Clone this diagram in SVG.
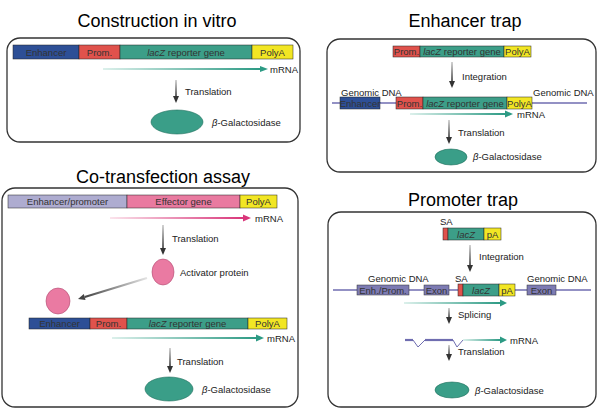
<svg xmlns="http://www.w3.org/2000/svg" width="598" height="409" viewBox="0 0 598 409">
<defs>
<style>
.title{font-family:"Liberation Sans",Arial,sans-serif;font-size:18px;fill:#000;text-anchor:middle}
.lbl{font-family:"Liberation Sans",Arial,sans-serif;font-size:9.5px;fill:#222}
.bx{font-family:"Liberation Sans",Arial,sans-serif;font-size:9.5px;fill:#333;text-anchor:middle}
.panel{fill:#fff;stroke:#333;stroke-width:1.3}
.enh{fill:#2d4f96;stroke:#222;stroke-width:0.5}
.prom{fill:#e0524c;stroke:#222;stroke-width:0.5}
.lacz{fill:#3c9e88;stroke:#222;stroke-width:0.5}
.polya{fill:#f2e624;stroke:#222;stroke-width:0.5}
.ep{fill:#aeacd0;stroke:#222;stroke-width:0.5}
.eff{fill:#e97aa0;stroke:#222;stroke-width:0.5}
.exon{fill:#7d7bb3;stroke:#333;stroke-width:0.5}
.gal{fill:#3a9e88;stroke:#1f6e5c;stroke-width:0.6}
.act{fill:#ea7aa2;stroke:#b04a70;stroke-width:0.6}
.gline{stroke:#6f6db0;stroke-width:1.3;fill:none}
.vs{fill:url(#gv)}
.vh{fill:#333}
.ts{fill:url(#gt)}
.th{fill:#2c9a84}
</style>
<linearGradient id="gv" x1="0" y1="0" x2="0" y2="1"><stop offset="0" stop-color="#c8c8c8"/><stop offset="1" stop-color="#333"/></linearGradient>
<linearGradient id="gd" x1="1" y1="0" x2="0" y2="0"><stop offset="0" stop-color="#e4e4e4"/><stop offset="1" stop-color="#444"/></linearGradient>
<linearGradient id="gt" x1="0" y1="0" x2="1" y2="0"><stop offset="0" stop-color="#dcf0eb"/><stop offset="1" stop-color="#2c9a84"/></linearGradient>
<linearGradient id="gp" x1="0" y1="0" x2="1" y2="0"><stop offset="0" stop-color="#fbe4ec"/><stop offset="1" stop-color="#d9367a"/></linearGradient>
</defs>

<!-- Panel 1: Construction in vitro -->
<g id="panel1">
<text class="title" x="157" y="27">Construction in vitro</text>
<rect class="panel" x="7" y="38" width="293" height="104" rx="13"/>
</g>
<g id="p1-construct">
<rect class="enh" x="13" y="45" width="66" height="14"/><text class="bx" x="46" y="55.5" fill="#1a2a5a">Enhancer</text>
<rect class="prom" x="79" y="45" width="41" height="14"/><text class="bx" x="99.5" y="55.5">Prom.</text>
<rect class="lacz" x="120" y="45" width="132" height="14"/><text class="bx" x="186" y="55.5"><tspan font-style="italic">lacZ</tspan> reporter gene</text>
<rect class="polya" x="252" y="45" width="41" height="14"/><text class="bx" x="272.5" y="55.5">PolyA</text>
</g>
<g id="p1-gal">
<ellipse class="gal" cx="177" cy="122" rx="26" ry="12"/>
<text class="lbl" x="212" y="126"><tspan font-style="italic">β</tspan>-Galactosidase</text>
</g>

<!-- Panel 2: Enhancer trap -->
<g id="panel2">
<text class="title" x="465" y="27">Enhancer trap</text>
<rect class="panel" x="327" y="39" width="269" height="133" rx="13"/>
</g>
<g id="p2-construct">
<rect class="prom" x="393" y="46" width="27" height="11"/><text class="bx" x="406.5" y="55">Prom.</text>
<rect class="lacz" x="420" y="46" width="84" height="11"/><text class="bx" x="462" y="55"><tspan font-style="italic">lacZ</tspan> reporter gene</text>
<rect class="polya" x="504" y="46" width="27" height="11"/><text class="bx" x="517.5" y="55">PolyA</text>
</g>
<g id="p2-genomic">
<line class="gline" x1="332" y1="103" x2="587" y2="103"/>
<text class="lbl" x="341" y="96">Genomic DNA</text>
<text class="lbl" x="533" y="96">Genomic DNA</text>
<rect class="enh" x="340" y="97" width="40" height="12"/><text class="bx" x="360" y="106.5" fill="#1a2a5a">Enhancer</text>
<rect class="prom" x="396" y="97" width="27" height="12"/><text class="bx" x="409.5" y="106.5">Prom.</text>
<rect class="lacz" x="423" y="97" width="84" height="12"/><text class="bx" x="465" y="106.5"><tspan font-style="italic">lacZ</tspan> reporter gene</text>
<rect class="polya" x="507" y="97" width="25" height="12"/><text class="bx" x="519.5" y="106.5">PolyA</text>
</g>
<g id="p2-gal">
<ellipse class="gal" cx="451" cy="157" rx="16" ry="8"/>
<text class="lbl" x="473" y="160"><tspan font-style="italic">β</tspan>-Galactosidase</text>
</g>

<!-- Panel 3: Co-transfection assay -->
<g id="panel3">
<text class="title" x="163" y="183">Co-transfection assay</text>
<rect class="panel" x="2" y="188" width="296" height="219" rx="13"/>
</g>
<g id="p3-effector">
<rect class="ep" x="8" y="195" width="119" height="13"/><text class="bx" x="67.5" y="205">Enhancer/promoter</text>
<rect class="eff" x="127" y="195" width="113" height="13"/><text class="bx" x="183.5" y="205">Effector gene</text>
<rect class="polya" x="240" y="195" width="37" height="13"/><text class="bx" x="258.5" y="205">PolyA</text>
</g>
<g id="p3-activator">
<ellipse class="act" cx="163" cy="272" rx="11" ry="13"/>
<text class="lbl" x="180" y="276">Activator protein</text>
</g>
<g id="p3-activator-bound">
<ellipse class="act" cx="58" cy="301" rx="12" ry="13"/>
</g>
<g id="p3-reporter">
<rect class="enh" x="29" y="318" width="61" height="11"/><text class="bx" x="59.5" y="327" fill="#1a2a5a">Enhancer</text>
<rect class="prom" x="90" y="318" width="37" height="11"/><text class="bx" x="108.5" y="327">Prom.</text>
<rect class="lacz" x="127" y="318" width="121" height="11"/><text class="bx" x="187.5" y="327"><tspan font-style="italic">lacZ</tspan> reporter gene</text>
<rect class="polya" x="248" y="318" width="39" height="11"/><text class="bx" x="267.5" y="327">PolyA</text>
</g>
<g id="p3-gal">
<ellipse class="gal" cx="169" cy="389" rx="24" ry="12"/>
<text class="lbl" x="202" y="393"><tspan font-style="italic">β</tspan>-Galactosidase</text>
</g>

<!-- Panel 4: Promoter trap -->
<g id="panel4">
<text class="title" x="463" y="206">Promoter trap</text>
<rect class="panel" x="328" y="212" width="268" height="195" rx="13"/>
</g>
<g id="p4-construct">
<text class="lbl" x="440" y="225">SA</text>
<rect class="prom" x="443" y="228" width="5" height="12"/>
<rect class="lacz" x="448" y="228" width="36" height="12"/><text class="bx" x="466" y="237.5" font-style="italic">lacZ</text>
<rect class="polya" x="484" y="228" width="17" height="12"/><text class="bx" x="492.5" y="237.5">pA</text>
</g>
<g id="p4-genomic">
<line class="gline" x1="333" y1="290" x2="591" y2="290"/>
<text class="lbl" x="368" y="282">Genomic DNA</text>
<text class="lbl" x="455" y="282">SA</text>
<text class="lbl" x="527" y="282">Genomic DNA</text>
<rect class="exon" x="357" y="285" width="52" height="10"/><text class="bx" x="383" y="293.5" fill="#222">Enh./Prom.</text>
<rect class="exon" x="424" y="285" width="25" height="10"/><text class="bx" x="436.5" y="293.5" fill="#222">Exon</text>
<rect class="prom" x="458" y="284" width="5" height="12"/>
<rect class="lacz" x="463" y="284" width="36" height="12"/><text class="bx" x="481" y="293.5" font-style="italic">lacZ</text>
<rect class="polya" x="499" y="284" width="16" height="12"/><text class="bx" x="507" y="293.5">pA</text>
<rect class="exon" x="527" y="285" width="29" height="10"/><text class="bx" x="541.5" y="293.5" fill="#222">Exon</text>
</g>
<g id="p4-spliced">
<polyline points="405,340 413,340 418,347 425,340 453,340 457,347 463,340" fill="none" stroke="#6f6db0" stroke-width="1"/>
<line x1="405" y1="340" x2="413" y2="340" stroke="#6f6db0" stroke-width="2.2"/>
<line x1="425" y1="340" x2="453" y2="340" stroke="#6f6db0" stroke-width="2.2"/>
</g>
<g id="p4-gal">
<ellipse class="gal" cx="452" cy="390" rx="17" ry="8"/>
<text class="lbl" x="475" y="394"><tspan font-style="italic">β</tspan>-Galactosidase</text>
</g>

<!-- Connectors -->
<g id="connectors">
<!-- panel 1 -->
<rect class="ts" x="103" y="68" width="158" height="2"/><path class="th" d="M260,66 L268,69 L260,72z"/>
<text class="lbl" x="270" y="73">mRNA</text>
<rect class="vs" x="175.2" y="80" width="1.6" height="17"/><path class="vh" d="M173,96 L176,103 L179,96z"/>
<text class="lbl" x="185" y="95">Translation</text>
<!-- panel 2 -->
<rect class="vs" x="451.2" y="62" width="1.6" height="20"/><path class="vh" d="M449,81 L452,88 L455,81z"/>
<text class="lbl" x="462" y="80">Integration</text>
<rect class="ts" x="410" y="113" width="96" height="2"/><path class="th" d="M505,110.5 L513,114 L505,117.5z"/>
<text class="lbl" x="517" y="118">mRNA</text>
<rect class="vs" x="448.2" y="120" width="1.6" height="18"/><path class="vh" d="M446,137 L449,144 L452,137z"/>
<text class="lbl" x="458" y="136">Translation</text>
<!-- panel 3 -->
<rect x="110" y="217" width="134" height="2" fill="url(#gp)"/><path d="M243,214.5 L251,218 L243,221.5z" fill="#d9367a"/>
<text class="lbl" x="255" y="222">mRNA</text>
<rect class="vs" x="162.2" y="225" width="1.6" height="24"/><path class="vh" d="M160,248 L163,255 L166,248z"/>
<text class="lbl" x="172" y="242">Translation</text>
<path d="M147.3,279 L146.7,277 L84.4,296 L85,298z" fill="url(#gd)"/><path d="M78,299 L83.8,294.1 L85.6,299.9z" fill="#444"/>
<rect class="ts" x="112" y="337" width="145" height="2"/><path class="th" d="M256,334.5 L264,338 L256,341.5z"/>
<text class="lbl" x="267" y="342">mRNA</text>
<rect class="vs" x="169.2" y="348" width="1.6" height="19"/><path class="vh" d="M167,366 L170,373 L173,366z"/>
<text class="lbl" x="177" y="365">Translation</text>
<!-- panel 4 -->
<rect class="vs" x="469.2" y="245" width="1.6" height="21"/><path class="vh" d="M467,265 L470,272 L473,265z"/>
<text class="lbl" x="479" y="260">Integration</text>
<rect class="ts" x="404" y="302" width="97" height="2"/><path class="th" d="M500,299.5 L507,303 L500,306.5z"/>
<rect class="vs" x="448.2" y="308" width="1.6" height="10"/><path class="vh" d="M446,317 L449,324 L452,317z"/>
<text class="lbl" x="458" y="318">Splicing</text>
<rect class="ts" x="463" y="339" width="38" height="2"/><path class="th" d="M500,336.5 L507,340 L500,343.5z"/>
<text class="lbl" x="510" y="344">mRNA</text>
<rect class="vs" x="448.2" y="345" width="1.6" height="10"/><path class="vh" d="M446,354 L449,361 L452,354z"/>
<text class="lbl" x="458" y="355">Translation</text>
</g>
</svg>
